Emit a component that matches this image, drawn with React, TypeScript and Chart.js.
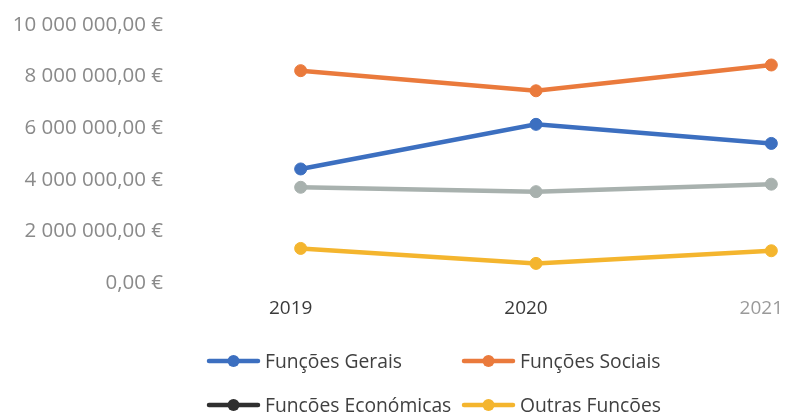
import { useEffect, useRef } from "react";
import { Chart, registerables } from "chart.js";

Chart.register(...registerables);

const years = ["2019", "2020", "2021"];
const seriesNames = ["Funções Gerais", "Funções Sociais", "Funções Económicas", "Outras Funções"];
const funcoesGerais = [4420000, 6150000, 5410000];
const funcoesSociais = [8230000, 7450000, 8450000];
const funcoesEconomicas = [3710000, 3540000, 3830000];
const outrasFuncoes = [1340000, 760000, 1250000];
const lineColors = ["#3c6fc0", "#ea7a3c", "#a8b1ae", "#f4b52e"];
const legendColors = ["#3c6fc0", "#ea7a3c", "#2f2f2f", "#f4b52e"];
const yMin = 0;
const yMax = 10000000;
const yStep = 2000000;

const FONT = '"Open Sans", "Noto Sans", sans-serif';

function formatEuro(v: number): string {
  const [intPart, dec] = Math.abs(v).toFixed(2).split(".");
  const grouped = intPart.replace(/\B(?=(\d{3})+(?!\d))/g, " ");
  return `${grouped},${dec} €`;
}

const gridLegend = {
  id: "gridLegend",
  afterDraw(chart: any) {
    const ctx = chart.ctx as CanvasRenderingContext2D;
    const cols = [207, 462];
    const rows = [361, 405];
    seriesNames.forEach((name, i) => {
      const x = cols[i % 2];
      const y = rows[Math.floor(i / 2)];
      ctx.save();
      ctx.strokeStyle = legendColors[i];
      ctx.lineWidth = 4.5;
      ctx.lineCap = "round";
      ctx.beginPath();
      ctx.moveTo(x + 2, y);
      ctx.lineTo(x + 51, y);
      ctx.stroke();
      ctx.fillStyle = legendColors[i];
      ctx.beginPath();
      ctx.arc(x + 26.5, y, 6, 0, Math.PI * 2);
      ctx.fill();
      ctx.fillStyle = "#404040";
      ctx.font = `19.3px ${FONT}`;
      ctx.textAlign = "left";
      ctx.textBaseline = "alphabetic";
      ctx.fillText(name, x + 58, y + 6.8);
      ctx.restore();
    });
  },
};

export default function App() {
  const canvasRef = useRef<HTMLCanvasElement>(null);

  useEffect(() => {
    if (!canvasRef.current) return;
    const series = [funcoesGerais, funcoesSociais, funcoesEconomicas, outrasFuncoes];
    const chart = new Chart(canvasRef.current, {
      type: "line",
      data: {
        labels: years,
        datasets: series.map((data, i) => ({
          label: seriesNames[i],
          data,
          borderColor: lineColors[i],
          backgroundColor: lineColors[i],
          pointBackgroundColor: lineColors[i],
          pointBorderColor: lineColors[i],
          borderWidth: 4.5,
          pointRadius: 6,
          pointBorderWidth: 1,
          tension: 0,
          fill: false,
        })),
      },
      options: {
        animation: false,
        responsive: false,
        maintainAspectRatio: false,
        layout: { padding: { top: 25, left: 0, right: 0, bottom: 0 } },
        plugins: {
          legend: { display: false },
          tooltip: { enabled: false },
        },
        scales: {
          x: {
            offset: true,
            grid: { display: false, drawTicks: false },
            border: { display: false },
            ticks: {
              padding: 14,
              labelOffset: -10,
              font: { family: FONT, size: 19 },
              color: (c: any) => (c.index === 2 ? "#9a9a9a" : "#3a3a3a"),
            },
            afterFit: (scale: any) => {
              scale.height = 129;
            },
          },
          y: {
            min: yMin,
            max: yMax,
            grid: { display: false, drawTicks: false },
            border: { display: false },
            ticks: {
              stepSize: yStep,
              padding: 20,
              font: { family: FONT, size: 20.5 },
              color: "#8a8a8a",
              callback: (v: any) => formatEuro(Number(v)),
            },
            afterFit: (scale: any) => {
              scale.width = 183;
              scale.paddingTop = 0;
              scale.paddingBottom = 0;
            },
          },
        },
      },
      plugins: [gridLegend],
    });
    return () => chart.destroy();
  }, []);

  return (
    <div
      style={{
        position: "fixed",
        left: 0,
        top: 0,
        width: 795,
        height: 412,
        overflow: "hidden",
        background: "#ffffff",
      }}
    >
      <canvas
        ref={canvasRef}
        width={896}
        height={412}
        style={{ display: "block", width: 896, height: 412 }}
      />
    </div>
  );
}
